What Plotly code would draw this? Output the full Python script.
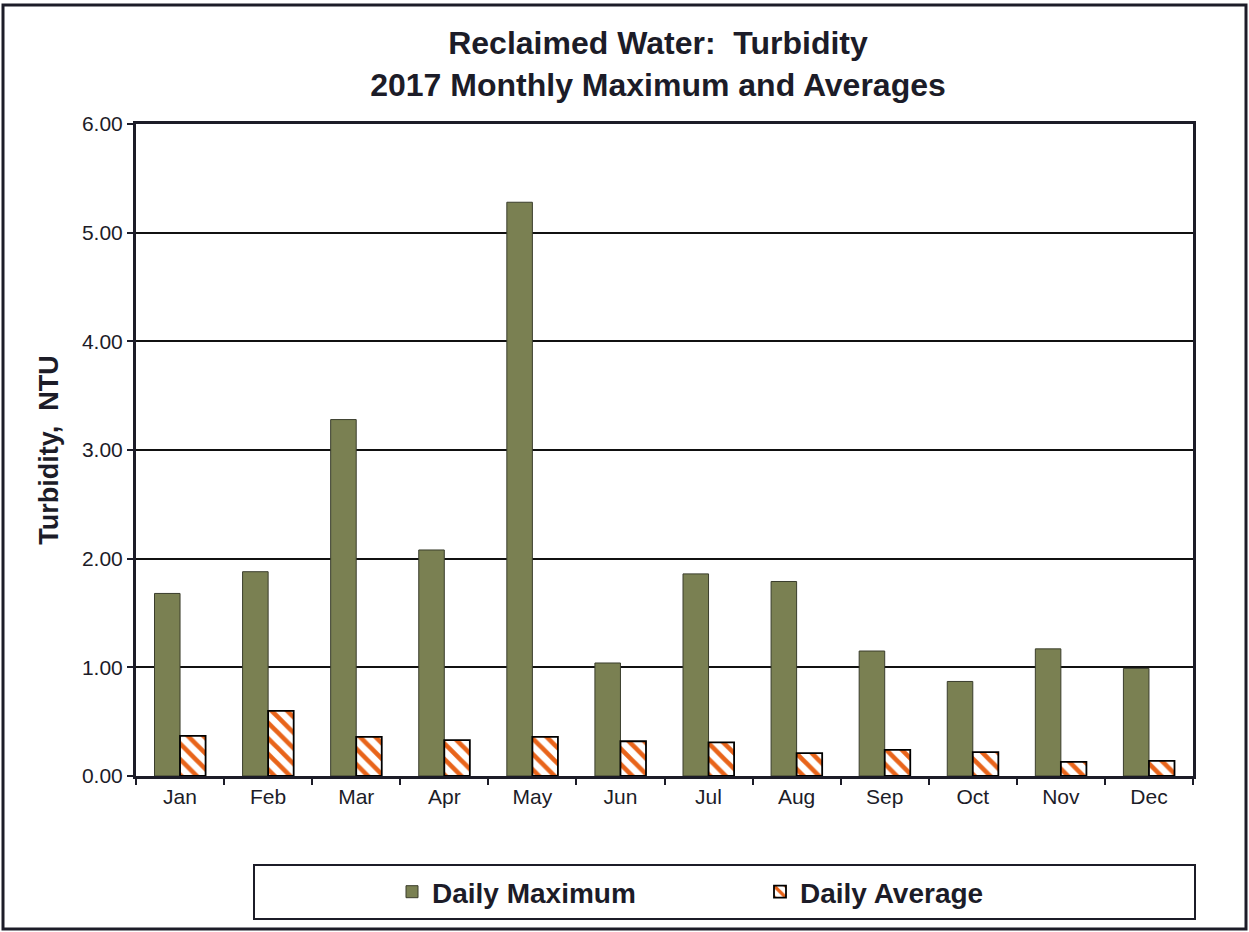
import plotly.graph_objects as go

months = ["Jan", "Feb", "Mar", "Apr", "May", "Jun", "Jul", "Aug", "Sep", "Oct", "Nov", "Dec"]
daily_max = [1.68, 1.88, 3.28, 2.08, 5.28, 1.04, 1.86, 1.79, 1.15, 0.87, 1.17, 0.99]
daily_avg = [0.37, 0.60, 0.36, 0.33, 0.36, 0.32, 0.31, 0.21, 0.24, 0.22, 0.13, 0.14]
y_ticks = [0, 1, 2, 3, 4, 5, 6]
y_tick_labels = ["0.00", "1.00", "2.00", "3.00", "4.00", "5.00", "6.00"]

FONT = "Liberation Sans, Arial, sans-serif"
DARK = "#1c1c28"

fig = go.Figure()
fig.add_trace(go.Bar(
    x=months, y=daily_max, name="Daily Maximum",
    marker=dict(color="#7a8052", line=dict(color="#3a3d2c", width=1)),
))
fig.add_trace(go.Bar(
    x=months, y=daily_avg, name="Daily Average",
    marker=dict(color="white", line=dict(color="black", width=1.8),
                pattern=dict(shape="\\", fgcolor="#e8641a", bgcolor="white",
                             fgopacity=1, size=11, solidity=0.42, fillmode="overlay")),
))

fig.update_layout(
    width=1249, height=932,
    margin=dict(l=136, r=56, t=124, b=156),
    paper_bgcolor="white", plot_bgcolor="white",
    barmode="group", bargap=0.42, bargroupgap=0,
    font=dict(family=FONT, color="black", size=21),
    title=dict(
        text="Reclaimed Water:  Turbidity<br>2017 Monthly Maximum and Averages",
        x=658 / 1249, xanchor="center", y=0.942, yanchor="top",
        font=dict(family=FONT, size=32, color=DARK, weight="bold"),
    ),
    showlegend=True,
    legend=dict(
        orientation="h", x=(392 - 136) / 1057, xanchor="left",
        y=(776 - 892) / 652, yanchor="middle",
        font=dict(family=FONT, size=28, color=DARK, weight="bold"),
        bgcolor="rgba(0,0,0,0)", entrywidth=323, itemwidth=30,
    ),
    xaxis=dict(
        type="category", tickson="boundaries", ticks="outside", ticklen=6,
        tickwidth=1.5, tickcolor=DARK, showline=True, linewidth=3, linecolor=DARK,
        mirror=True, showgrid=False, tickfont=dict(size=21, color=DARK),
    ),
    yaxis=dict(
        range=[0, 6], tickvals=y_ticks, ticktext=y_tick_labels,
        ticks="outside", ticklen=6, tickwidth=1.5, tickcolor=DARK,
        showline=True, linewidth=3, linecolor=DARK, mirror=True,
        showgrid=True, gridcolor="#111111", gridwidth=1.5,
        tickfont=dict(size=21, color=DARK),
        title=dict(text="Turbidity,  NTU", standoff=16,
                   font=dict(family=FONT, size=27, color=DARK, weight="bold")),
    ),
    shapes=[
        # outer frame
        dict(type="rect", xref="paper", yref="paper",
             x0=(3 - 136) / 1057, x1=(1246 - 136) / 1057,
             y0=(776 - 929) / 652, y1=(776 - 5) / 652,
             line=dict(color=DARK, width=3), layer="below"),
        # legend box
        dict(type="rect", xref="paper", yref="paper",
             x0=(254 - 136) / 1057, x1=(1195 - 136) / 1057,
             y0=(776 - 919) / 652, y1=(776 - 865) / 652,
             line=dict(color=DARK, width=2), layer="below"),
    ],
)

fig.write_html("out.html", config={"displayModeBar": False},
               post_script="document.body.style.margin='0';")
